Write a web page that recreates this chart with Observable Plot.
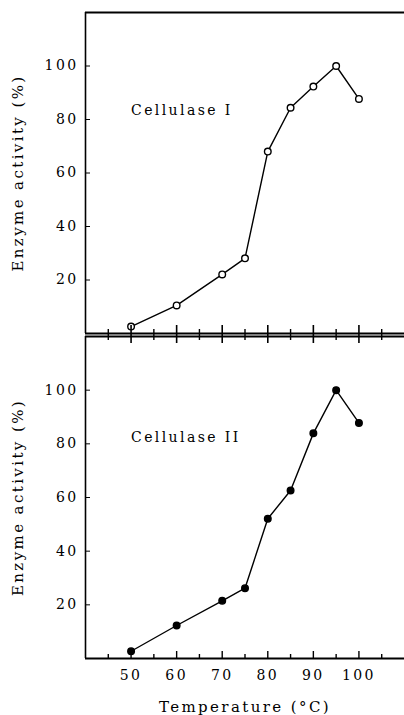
<!DOCTYPE html>
<html>
<head>
<meta charset="utf-8">
<script src="https://cdn.jsdelivr.net/npm/d3@7"></script>
<script src="https://cdn.jsdelivr.net/npm/@observablehq/plot@0.6"></script>
<style>
  body { margin: 0; background: white; }
  #chart svg { display: block; overflow: visible; background: transparent; }
</style>
</head>
<body>
<div id="chart"></div>
<script>
const temps = [50, 60, 70, 75, 80, 85, 90, 95, 100];
const cellulaseI = [2.6, 10.5, 22.1, 28.1, 68, 84.4, 92.3, 100, 87.7];
const cellulaseII = [2.7, 12.3, 21.5, 26.2, 52.1, 62.6, 83.9, 100, 87.8];
const yTicks = [20, 40, 60, 80, 100];
const xMajor = [50, 60, 70, 80, 90, 100];
const xMinor = [45, 55, 65, 75, 85, 95, 105];
const yLabel = "Enzyme activity (%)";
const xLabel = "Temperature (°C)";
const panelNames = ["Cellulase I", "Cellulase II"];

const rowsI = temps.map((t, i) => ({t, v: cellulaseI[i]}));
const rowsII = temps.map((t, i) => ({t, v: cellulaseII[i]}));

const baseStyle = {fontFamily: "DejaVu Serif", fontSize: "14px", letterSpacing: "2.4px", background: "transparent", overflow: "visible", color: "black"};

function panel(rows, name, filled, isBottom) {
  const marks = [
    Plot.ruleY([120], {strokeWidth: 2}),
    Plot.ruleY([0], {strokeWidth: 2}),
    Plot.ruleX([40], {strokeWidth: 1.6}),
    Plot.axisY({ticks: yTicks, tickSize: -5, tickPadding: 12, label: null, fontSize: 14}),
    Plot.line(rows, {x: "t", y: "v", stroke: "black", strokeWidth: 1.4}),
    Plot.dot(rows, {x: "t", y: "v", r: 3.3, stroke: "black", strokeWidth: 1.4, fill: filled ? "black" : "white"}),
    Plot.text([name], {x: 50, y: isBottom ? 82.4 : 83.2, textAnchor: "start", fontSize: 14}),
    Plot.text([yLabel], {frameAnchor: "left", textAnchor: "middle", rotate: -90, dx: -67, fontSize: 15})
  ];
  if (!isBottom) {
    marks.push(
      Plot.axisX({ticks: xMajor, tickSize: 10, text: null, label: null, strokeWidth: 1.6}),
      Plot.axisX({ticks: xMajor, tickSize: -8, text: null, label: null, strokeWidth: 1.6}),
      Plot.axisX({ticks: xMinor, tickSize: 7, text: null, label: null, strokeWidth: 1.4}),
      Plot.axisX({ticks: xMinor, tickSize: -4, text: null, label: null, strokeWidth: 1.4})
    );
  } else {
    marks.push(
      Plot.axisX({ticks: xMajor, tickSize: -7, tickPadding: 19, label: null, fontSize: 14, strokeWidth: 1.4}),
      Plot.axisX({ticks: xMinor, tickSize: -4, text: null, label: null, strokeWidth: 1.4}),
      Plot.text([xLabel], {frameAnchor: "bottom", dy: 53, fontSize: 15, letterSpacing: "1.5px"})
    );
  }
  return Plot.plot({
    width: 404,
    height: isBottom ? 380 : 335,
    marginLeft: 85,
    marginRight: 0,
    marginTop: isBottom ? 1 : 12,
    marginBottom: isBottom ? 57 : 2,
    x: {domain: [40, 110]},
    y: {domain: [0, 120]},
    style: baseStyle,
    marks
  });
}

const chart = document.getElementById("chart");
chart.appendChild(panel(rowsI, panelNames[0], false, false));
chart.appendChild(panel(rowsII, panelNames[1], true, true));
</script>
</body>
</html>
